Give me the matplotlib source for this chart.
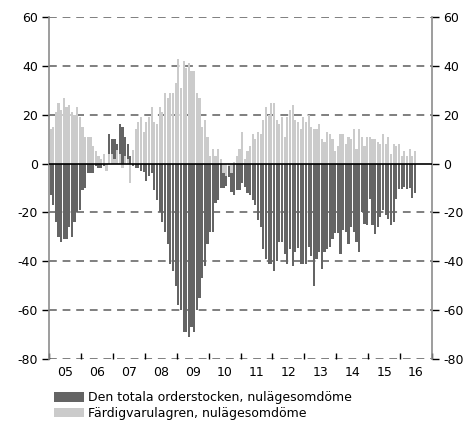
import matplotlib
matplotlib.use('Agg')
import matplotlib.pyplot as plt
from matplotlib.patches import Patch
import numpy as np

# monthly values, Jan 2005 - Jun 2016
order_stock = [
    -13, -17, -24, -30, -32, -31, -31, -26, -30, -24, -20, -19,   # 2005
    -11, -10, -4, -4, -4, -1, -2, -2, -1, -1, 12, 10,             # 2006
    10, 8, 16, 15, 11, 8, 3, -1, -2, -2, -3, -3.5,                 # 2007
    -7, -5, -4, -11, -15, -20, -24, -28, -33, -41, -44, -50,       # 2008
    -58, -60, -69, -69, -71, -67, -69, -60, -55, -47, -42, -33,    # 2009
    -28, -28, -16, -15, -10, -10, -9, -5.5, -11.6, -13, -11, -11,  # 2010
    -8, -9.6, -12, -13, -15, -17, -23, -26, -35, -39, -41, -41,    # 2011
    -44, -40, -32, -32, -37, -41, -35, -42, -36, -34.5, -41, -41,  # 2012
    -41, -34, -38, -50, -39, -36, -43, -36, -35, -34, -31, -28.5,  # 2013
    -28.5, -37, -27, -28, -33, -26, -28, -32, -36, -20, -24.7, -25,  # 2014
    -14.4, -25, -29, -26, -22, -19, -21, -22.6, -25, -24, -14.5, -10.4,  # 2015
    -10.4, -9.7, -10.4, -10, -14, -12,                             # 2016
]
finished_goods = [
    14, 15, 21, 25, 22, 27, 23, 24, 21, 20, 23, 19,   # 2005
    15, 11, 11, 11, 7, 5, 3, 2, 4, -3, 4, 4,          # 2006
    2, 5.5, 4, -2, 3, 2, -8, 5.5, 14, 17, 19, 13,     # 2007
    17, 19, 23, 17, 16, 23, 21, 29, 27, 29, 29, 33,   # 2008
    43, 31, 42, 39, 41, 38, 38, 29, 27, 15, 18, 11,   # 2009
    3, 6, 3, 6, 2, -4, -5, -1, -4, 0.5, 3, 6,         # 2010
    13, 2, 5, 7, 12, 10, 13, 12, 18, 23, 20, 25,      # 2011
    25, 18, 16, 19, 11, 19, 22, 24, 18, 17, 14, 19,   # 2012
    17, 20, 15, 14, 14, 16, 10, 9, 13, 12, 10, 5,     # 2013
    7, 12, 12, 8, 11, 10, 14, 6, 14, 11, 7, 11,       # 2014
    11, 10, 10, 9, 8, 12, 8, 11, 4, 8, 7, 8,          # 2015
    3, 5, 3, 6, 3, 5,                                 # 2016
]
year_labels = ['05', '06', '07', '08', '09', '10', '11', '12', '13', '14', '15', '16']
yticks = [-80, -60, -40, -20, 0, 20, 40, 60]

dark = '#646464'
light = '#cbcbcb'
grid = '#7f7f7f'

fig = plt.figure(figsize=(4.74, 4.24), dpi=100)
ax = fig.add_axes([0.1034, 0.1533, 0.808, 0.8066])

x = np.arange(len(order_stock)) + 0.6
ax.bar(x, order_stock, width=0.82, color=dark, linewidth=0, zorder=2)
ax.bar(x, finished_goods, width=0.82, color=light, linewidth=0, zorder=3)

for y in yticks:
    if y != 0:
        ax.axhline(y, color=grid, lw=1.4, ls=(0, (4, 3)), zorder=1)
ax.axhline(0, color='black', lw=1.2, zorder=4)

ax.set_xlim(0, 12 * len(year_labels))
ax.set_ylim(-80, 60)
ax.set_yticks(yticks)
ax.set_yticklabels([str(v) for v in yticks])
ax.tick_params(axis='y', which='both', direction='out', length=5, width=1,
               color='black', labelsize=9, left=True, right=True,
               labelleft=True, labelright=True, pad=3)

ax.set_xticks(np.arange(0, 12 * len(year_labels) + 1, 12))
ax.set_xticklabels([])
ax.set_xticks(np.arange(6, 12 * len(year_labels), 12), minor=True)
ax.set_xticklabels(year_labels, minor=True)
ax.tick_params(axis='x', which='major', direction='in', length=4, width=1, color='black')
ax.tick_params(axis='x', which='minor', length=0, labelsize=9, pad=5)

for s in ['top', 'bottom']:
    ax.spines[s].set_visible(False)
for s in ['left', 'right']:
    ax.spines[s].set_color('#8c8c8c')
    ax.spines[s].set_linewidth(1.2)

handles = [Patch(facecolor=dark, edgecolor='none'), Patch(facecolor=light, edgecolor='none')]
fig.legend(handles, ['Den totala orderstocken, nulägesomdöme', 'Färdigvarulagren, nulägesomdöme'],
           loc='upper left', bbox_to_anchor=(0.114, 0.077), frameon=False, fontsize=9,
           handlelength=2.4, handleheight=0.8, handletextpad=0.3, labelspacing=0.2,
           borderpad=0, borderaxespad=0)

fig.savefig('out.png', dpi=100)
